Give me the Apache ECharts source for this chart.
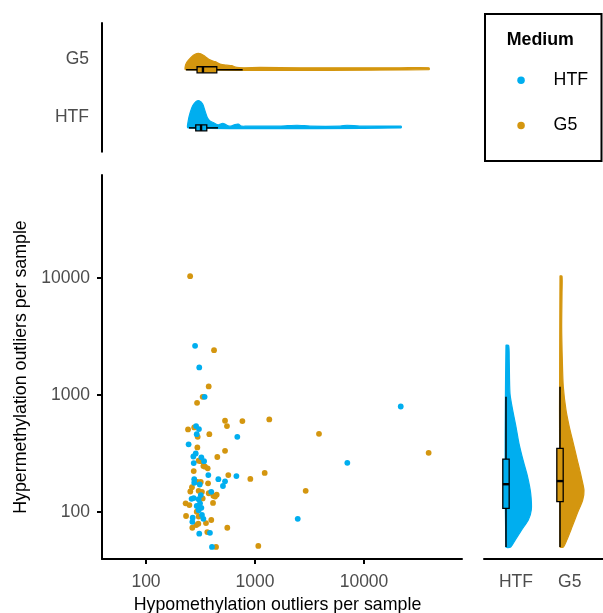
<!DOCTYPE html>
<html><head><meta charset="utf-8">
<script src="https://cdn.jsdelivr.net/npm/echarts@6/dist/echarts.min.js"></script>
<style>html,body{margin:0;padding:0;background:#fff}#c{width:603px;height:613px}</style>
</head><body><div id="c"></div>
<script>
// ---------- data ----------
const groups = ['HTF', 'G5'];
const htfHypo  = [282, 308, 345, 21730, 288, 306, 292, 688, 246, 286, 272, 322, 341, 274, 7030, 373, 675, 461, 531, 277, 277, 508, 311, 397, 318, 262, 274, 304, 292, 313, 322, 304, 326, 336, 268, 266, 308, 386, 403, 2466];
const htfHyper = [2625, 1714, 962, 795, 540, 509, 461, 437, 377, 315, 297, 292, 271, 261, 262, 206, 202, 190, 182, 190, 177, 166, 171, 148, 139, 129, 131, 128, 112, 118, 108, 103, 94, 87, 89, 82, 65, 66, 50, 87];
const g5Hypo  = [254, 421, 376, 294, 331, 531, 553, 766, 1352, 3864, 39170, 243, 277, 298, 381, 296, 531, 451, 304, 318, 336, 368, 348, 274, 569, 1227, 906, 318, 296, 371, 255, 264, 304, 326, 376, 415, 445, 430, 2917, 231, 250, 412, 331, 292, 233, 304, 397, 355, 289, 266, 302, 557, 365, 439, 1072];
const g5Hyper = [10350, 2410, 1180, 855, 962, 600, 540, 596, 616, 464, 319, 506, 526, 437, 461, 355, 332, 294, 273, 271, 246, 235, 243, 223, 206, 215, 191, 180, 180, 175, 149, 162, 151, 148, 144, 137, 140, 135, 151, 118, 114, 119, 130, 100, 92, 91, 85, 80, 77, 73, 79, 73, 67, 50, 51];
const xTickValues = [100, 1000, 10000];
const yTickValues = [100, 1000, 10000];

// marginal density profiles: [outlier count, relative density]
const htfHypoDensity = [[244,0.12],[254,0.26],[268,0.38],[288,0.453],[308,0.466],[331,0.41],[348,0.29],[365,0.18],[386,0.12],[414,0.09],[460,0.05],[506,0.08],[550,0.047],[590,0.03],[656,0.058],[703,0.064],[755,0.03],[839,0.03],[1694,0.03],[2427,0.045],[3199,0.03],[6026,0.03],[6982,0.045],[9120,0.03],[21880,0.03]];
const g5HypoDensity = [[231,0.09],[244,0.16],[272,0.25],[292,0.28],[318,0.276],[348,0.23],[386,0.17],[430,0.14],[478,0.10],[550,0.08],[611,0.07],[679,0.04],[782,0.035],[1112,0.04],[2588,0.035],[7447,0.035],[21380,0.035],[39450,0.035]];
const htfHyperDensity = [[50,0.087],[57,0.167],[70,0.29],[85,0.413],[104,0.469],[144,0.457],[199,0.40],[277,0.315],[385,0.24],[533,0.185],[740,0.124],[1028,0.074],[1982,0.06],[2640,0.05]];
const g5HyperDensity = [[50,0.061],[57,0.124],[74,0.222],[97,0.32],[126,0.42],[153,0.444],[199,0.394],[277,0.32],[385,0.246],[533,0.172],[740,0.111],[1169,0.061],[1982,0.043],[3811,0.031],[7362,0.037],[10350,0.037]];

// box statistics: [whisker low, q1, median, q3, whisker high]
const htfHypoBox  = [248, 286, 320, 361, 458];
const g5HypoBox   = [233, 294, 333, 446, 771];
const htfHyperBox = [50, 107, 172, 282, 962];
const g5HyperBox  = [50, 122, 183, 348, 1170];

// ---------- layout / style ----------
const colors = { HTF: '#00AEEF', G5: '#D4960F' };
const groupPos = { HTF: 1, G5: 2 };
const labelPos = { HTF: 1.185, G5: 2.18 };
const FONT = 'Liberation Sans';
const LX = [1.5963, 4.899], LY = [1.596, 4.88];
const lg = Math.log10;

function violin(profile, g, xi, yi, horizontal) {
  const d = profile.map(p => [lg(p[0]), p[1]]);
  const pos = groupPos[g];
  return {
    type: 'custom', xAxisIndex: xi, yAxisIndex: yi, silent: true, z: 2,
    data: d,
    renderItem: function (params, api) {
      if (params.dataIndex !== 0) return null;
      const pts = d.map(p => horizontal ? api.coord([p[0], pos + p[1]]) : api.coord([pos + p[1], p[0]]));
      const last = d[d.length - 1][0], first = d[0][0];
      if (horizontal) { pts.push(api.coord([last, pos])); pts.push(api.coord([first, pos])); }
      else { pts.push(api.coord([pos, last])); pts.push(api.coord([pos, first])); }
      return { type: 'polygon', shape: { points: pts, smooth: 0.25 },
        style: { fill: colors[g], stroke: colors[g], lineWidth: 1.2, lineJoin: 'round' } };
    }
  };
}

function box(stats, g, xi, yi, horizontal, hw) {
  const s = stats.map(lg);
  const pos = groupPos[g];
  let api0;
  const c = horizontal ? (v, o) => api0.coord([v, pos + o]) : (v, o) => api0.coord([pos + o, v]);
  return {
    type: 'custom', xAxisIndex: xi, yAxisIndex: yi, silent: true, z: 3,
    data: [[pos].concat(s)],
    renderItem: function (params, api) {
      api0 = api;
      const line = (a, b, w) => ({ type: 'line', shape: { x1: a[0], y1: a[1], x2: b[0], y2: b[1] },
        style: { stroke: '#000', lineWidth: w } });
      const p1 = c(s[1], hw), p2 = c(s[3], -hw);
      const rx = Math.min(p1[0], p2[0]), ry = Math.min(p1[1], p2[1]);
      return { type: 'group', children: [
        line(c(s[0], 0), c(s[1], 0), 1.5),
        line(c(s[3], 0), c(s[4], 0), 1.5),
        { type: 'rect', shape: { x: rx, y: ry, width: Math.abs(p2[0] - p1[0]), height: Math.abs(p2[1] - p1[1]) },
          style: { fill: colors[g], stroke: '#000', lineWidth: 1.3 } },
        line(c(s[2], hw), c(s[2], -hw), 2.4)
      ] };
    }
  };
}

const tickLabel = { color: '#4D4D4D', fontSize: 17.5, fontFamily: FONT };
const axisLine = { show: true, onZero: false, lineStyle: { color: '#000', width: 2 } };
const catLabels = groups.map(g => labelPos[g]);
const catFormatter = v => groups.find(g => Math.abs(labelPos[g] - v) < 0.01) || '';
const powFormatter = v => String(Math.round(Math.pow(10, v)));
const legendText = { fontSize: 17.8, fontFamily: FONT, color: '#000', lineHeight: 20 };

const option = {
  animation: false,
  backgroundColor: '#fff',
  title: { text: 'Medium', left: 506.7, top: 29.8, padding: 0,
    textStyle: { fontSize: 17.8, fontWeight: 'bold', fontFamily: FONT, color: '#000', lineHeight: 20 } },
  legend: [
    { data: ['HTF'], orient: 'vertical', left: 517.3, top: 70.3, padding: 0, icon: 'circle',
      itemWidth: 55, itemHeight: 7.5, selectedMode: false, textStyle: legendText },
    { data: ['G5'], orient: 'vertical', left: 517.3, top: 115.5, padding: 0, icon: 'circle',
      itemWidth: 55, itemHeight: 7.5, selectedMode: false, textStyle: legendText }
  ],
  graphic: [{ type: 'rect', silent: true, shape: { x: 485, y: 14, width: 116.5, height: 147 },
    style: { fill: 'none', stroke: '#000', lineWidth: 2 } }],
  grid: [
    { left: 102, top: 175, width: 360, height: 384, outerBoundsMode: 'none', containLabel: false },
    { left: 102, top: 23, width: 360, height: 128.7, outerBoundsMode: 'none', containLabel: false },
    { left: 484, top: 175, width: 119, height: 384, outerBoundsMode: 'none', containLabel: false }
  ],
  xAxis: [
    { gridIndex: 0, type: 'value', min: LX[0], max: LX[1], axisLine: axisLine,
      axisTick: { show: true, customValues: xTickValues.map(lg), length: 5, lineStyle: { color: '#000', width: 2 } },
      axisLabel: Object.assign({ customValues: xTickValues.map(lg), formatter: powFormatter, margin: 14 }, tickLabel),
      splitLine: { show: false },
      name: 'Hypomethylation outliers per sample', nameLocation: 'middle', nameGap: 37,
      nameTextStyle: { fontSize: 17.8, fontFamily: FONT, color: '#000', padding: [0, 9, 0, 0] } },
    { gridIndex: 1, type: 'value', min: LX[0], max: LX[1], show: false },
    { gridIndex: 2, type: 'value', min: 0.593, max: 2.796, axisLine: axisLine,
      axisTick: { show: false }, splitLine: { show: false },
      axisLabel: Object.assign({ customValues: catLabels, formatter: catFormatter, margin: 14 }, tickLabel) }
  ],
  yAxis: [
    { gridIndex: 0, type: 'value', min: LY[0], max: LY[1], axisLine: axisLine,
      axisTick: { show: true, customValues: yTickValues.map(lg), length: 5, lineStyle: { color: '#000', width: 2 } },
      axisLabel: Object.assign({ customValues: yTickValues.map(lg), formatter: powFormatter, margin: 12 }, tickLabel),
      splitLine: { show: false },
      name: 'Hypermethylation outliers per sample', nameLocation: 'middle', nameGap: 72,
      nameTextStyle: { fontSize: 17.8, fontFamily: FONT, color: '#000' } },
    { gridIndex: 1, type: 'value', min: 0.59, max: 2.805, axisLine: axisLine,
      axisTick: { show: false }, splitLine: { show: false },
      axisLabel: Object.assign({ customValues: catLabels, formatter: catFormatter, margin: 13 }, tickLabel) },
    { gridIndex: 2, type: 'value', min: LY[0], max: LY[1], show: false }
  ],
  series: [
    { name: 'G5', type: 'scatter', xAxisIndex: 0, yAxisIndex: 0, symbolSize: 5.8,
      itemStyle: { color: colors.G5, opacity: 1 },
      data: g5Hypo.map((v, i) => [lg(v), lg(g5Hyper[i])]) },
    { name: 'HTF', type: 'scatter', xAxisIndex: 0, yAxisIndex: 0, symbolSize: 5.8,
      itemStyle: { color: colors.HTF, opacity: 1 },
      data: htfHypo.map((v, i) => [lg(v), lg(htfHyper[i])]) },
    violin(g5HypoDensity, 'G5', 1, 1, true),
    violin(htfHypoDensity, 'HTF', 1, 1, true),
    box(g5HypoBox, 'G5', 1, 1, true, 0.052),
    box(htfHypoBox, 'HTF', 1, 1, true, 0.052),
    violin(htfHyperDensity, 'HTF', 2, 2, false),
    violin(g5HyperDensity, 'G5', 2, 2, false),
    box(htfHyperBox, 'HTF', 2, 2, false, 0.059),
    box(g5HyperBox, 'G5', 2, 2, false, 0.059)
  ]
};
const chart = echarts.init(document.getElementById('c'), null, { renderer: 'canvas' });
chart.setOption(option);
</script>
</body></html>
